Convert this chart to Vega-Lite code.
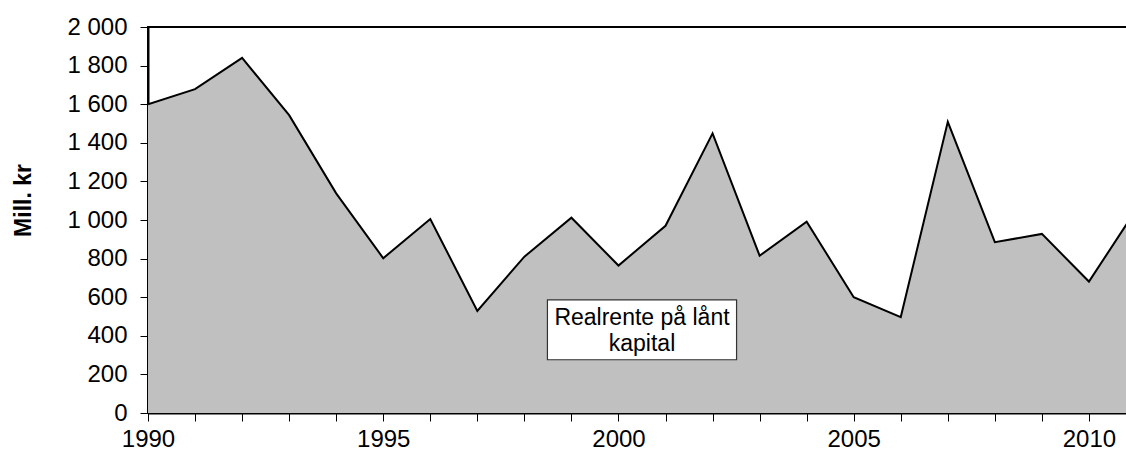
{
  "$schema": "https://vega.github.io/schema/vega-lite/v6.json",
  "autosize": "none",
  "padding": {"left": 148, "top": 27, "right": 0, "bottom": 41},
  "width": 980,
  "height": 386,
  "background": "white",
  "config": {
    "font": "Liberation Sans",
    "view": {"stroke": "black", "strokeWidth": 2},
    "axisX": {
      "grid": false, "domainColor": "black", "domainWidth": 2,
      "tickColor": "black", "tickSize": 8, "tickWidth": 1,
      "labelFontSize": 24, "labelColor": "black", "labelPadding": 6,
      "labelFont": "Liberation Sans", "labelFlush": false, "labelOverlap": false
    },
    "axisY": {
      "grid": false, "domainColor": "black", "domainWidth": 2,
      "tickColor": "black", "tickSize": 8, "tickWidth": 1,
      "labelFontSize": 24, "labelColor": "black", "labelPadding": 13,
      "labelFont": "Liberation Sans", "labelOverlap": false, "labelFlush": false,
      "titleFontSize": 23, "titleFontWeight": "bold", "titleColor": "black", "titleFont": "Liberation Sans"
    }
  },
  "datasets": {
    "series": [
      {"year": 1990, "value": 1600},
      {"year": 1991, "value": 1678},
      {"year": 1992, "value": 1840},
      {"year": 1993, "value": 1543},
      {"year": 1994, "value": 1138},
      {"year": 1995, "value": 802},
      {"year": 1996, "value": 1005},
      {"year": 1997, "value": 529},
      {"year": 1998, "value": 810},
      {"year": 1999, "value": 1012},
      {"year": 2000, "value": 764},
      {"year": 2001, "value": 970},
      {"year": 2002, "value": 1449},
      {"year": 2003, "value": 815},
      {"year": 2004, "value": 991},
      {"year": 2005, "value": 600},
      {"year": 2006, "value": 497},
      {"year": 2007, "value": 1509},
      {"year": 2008, "value": 885},
      {"year": 2009, "value": 928},
      {"year": 2010, "value": 681},
      {"year": 2011, "value": 1052}
    ],
    "note": [
      {"x1": 1998.49, "x2": 2002.51, "y1": 276, "y2": 586, "xm": 2000.5, "ym": 457, "label": ["Realrente på lånt", "kapital"]}
    ]
  },
  "layer": [
    {
      "data": {"name": "series"},
      "mark": {"type": "area", "color": "#C0C0C0", "opacity": 1, "fillOpacity": 1, "clip": true, "line": {"color": "black", "strokeWidth": 2}},
      "encoding": {
        "x": {
          "field": "year", "type": "quantitative",
          "scale": {"domain": [1990, 2010.83], "nice": false, "zero": false},
          "axis": {
            "title": null,
            "values": [1990,1991,1992,1993,1994,1995,1996,1997,1998,1999,2000,2001,2002,2003,2004,2005,2006,2007,2008,2009,2010],
            "labelExpr": "datum.value % 5 == 0 ? datum.value : ''"
          }
        },
        "y": {
          "field": "value", "type": "quantitative",
          "scale": {"domain": [0, 2000], "nice": false},
          "axis": {
            "title": "Mill. kr",
            "titleX": -125, "titleY": 173, "titleAngle": -90, "titleAlign": "center", "titleBaseline": "middle",
            "values": [0,200,400,600,800,1000,1200,1400,1600,1800,2000],
            "labelExpr": "replace(format(datum.value, ','), ',', ' ')"
          }
        }
      }
    },
    {
      "data": {"name": "note"},
      "mark": {"type": "rect", "fill": "white", "stroke": "#333333", "strokeWidth": 1.2},
      "encoding": {
        "x": {"field": "x1", "type": "quantitative",
          "axis": {
            "title": null,
            "values": [1990,1991,1992,1993,1994,1995,1996,1997,1998,1999,2000,2001,2002,2003,2004,2005,2006,2007,2008,2009,2010],
            "labelExpr": "datum.value % 5 == 0 ? datum.value : ''"
          }},
        "x2": {"field": "x2"},
        "y": {"field": "y1", "type": "quantitative",
          "axis": {
            "title": "Mill. kr",
            "titleX": -125, "titleY": 173, "titleAngle": -90, "titleAlign": "center", "titleBaseline": "middle",
            "values": [0,200,400,600,800,1000,1200,1400,1600,1800,2000],
            "labelExpr": "replace(format(datum.value, ','), ',', ' ')"
          }},
        "y2": {"field": "y2"}
      }
    },
    {
      "data": {"name": "note"},
      "mark": {"type": "text", "fontSize": 23, "font": "Liberation Sans", "color": "black", "align": "center", "baseline": "alphabetic", "lineHeight": 26.7},
      "encoding": {
        "x": {"field": "xm", "type": "quantitative",
          "axis": {
            "title": null,
            "values": [1990,1991,1992,1993,1994,1995,1996,1997,1998,1999,2000,2001,2002,2003,2004,2005,2006,2007,2008,2009,2010],
            "labelExpr": "datum.value % 5 == 0 ? datum.value : ''"
          }},
        "y": {"field": "ym", "type": "quantitative",
          "axis": {
            "title": "Mill. kr",
            "titleX": -125, "titleY": 173, "titleAngle": -90, "titleAlign": "center", "titleBaseline": "middle",
            "values": [0,200,400,600,800,1000,1200,1400,1600,1800,2000],
            "labelExpr": "replace(format(datum.value, ','), ',', ' ')"
          }},
        "text": {"field": "label"}
      }
    }
  ]
}
